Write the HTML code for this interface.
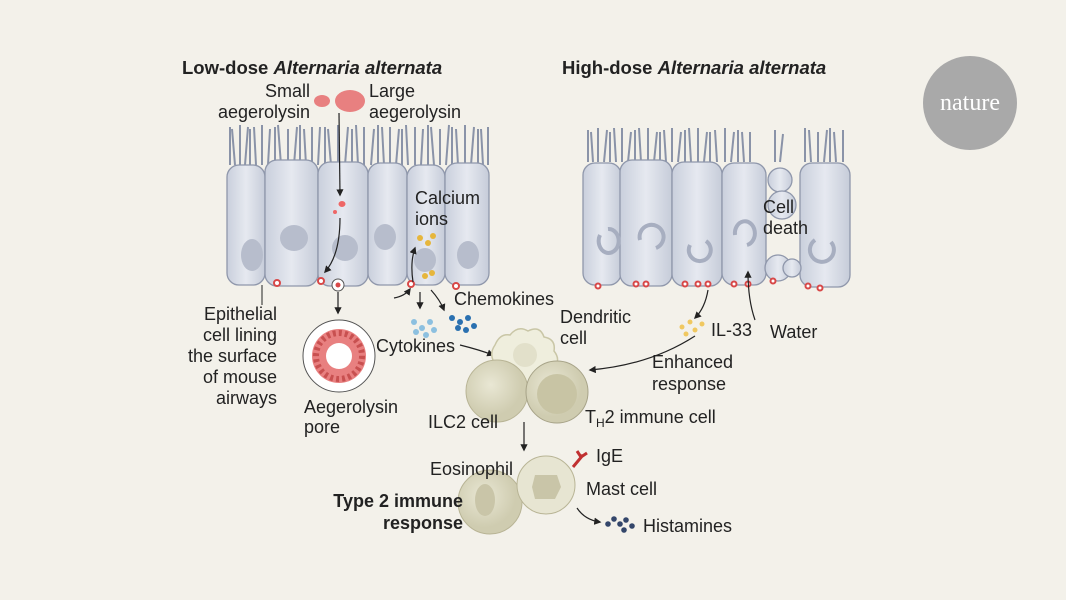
<!DOCTYPE html>
<html><head><meta charset="utf-8"><style>
body{margin:0;background:#f3f1ea;}
svg{display:block;font-family:"Liberation Sans",sans-serif;}
text{font-size:18px;fill:#222;}
</style></head><body>
<svg width="1066" height="600" viewBox="0 0 1066 600">
<defs>
<linearGradient id="cg" x1="0" x2="1"><stop offset="0" stop-color="#c9cfdc"/><stop offset="0.5" stop-color="#e6e9f0"/><stop offset="1" stop-color="#c6ccd9"/></linearGradient>
<radialGradient id="wc" cx="0.4" cy="0.4"><stop offset="0" stop-color="#e9e7d4"/><stop offset="1" stop-color="#cfccb0"/></radialGradient>
<marker id="ar" viewBox="0 0 10 10" refX="8" refY="5" markerWidth="6" markerHeight="6" orient="auto"><path d="M0,0L10,5L0,10z" fill="#222"/></marker>
</defs>
<rect width="1066" height="600" fill="#f3f1ea"/>
<circle cx="970" cy="103" r="47" fill="#a9a9a9"/>
<text x="970" y="110" text-anchor="middle" style="font-family:'Liberation Serif',serif;font-size:24px;fill:#fff">nature</text>
<text x="182" y="74" style="font-weight:bold;font-size:18.5px">Low-dose <tspan font-style="italic">Alternaria alternata</tspan></text>
<text x="562" y="74" style="font-weight:bold;font-size:18.5px">High-dose <tspan font-style="italic">Alternaria alternata</tspan></text>
<text x="310" y="97" text-anchor="end">Small</text><text x="310" y="118" text-anchor="end">aegerolysin</text>
<text x="369" y="97">Large</text><text x="369" y="118">aegerolysin</text>
<ellipse cx="322" cy="101" rx="8" ry="6" fill="#e88080"/>
<ellipse cx="350" cy="101" rx="15" ry="11" fill="#e88080"/>
<g stroke="#8a93a8" stroke-width="2">
<path d="M230,165 v-38 M235,165 l-3,-36 M240,165 v-40 M245,165 l3,-38 M250,165 v-36 M256,165 l-2,-38 M262,165 v-40 M268,165 l2,-36 M275,165 v-38 M281,165 l-3,-40 M288,165 v-36 M294,165 l3,-38 M300,165 v-40 M306,165 l-2,-36 M312,165 v-38 M318,165 l2,-38 M325,165 v-38 M331,165 l-3,-36 M338,165 v-40 M345,165 l3,-38 M352,165 v-36 M358,165 l-2,-40 M364,165 v-38 M371,165 l3,-36 M378,165 v-40 M384,165 l-2,-38 M390,165 v-38 M396,165 l3,-36 M402,165 v-36 M408,165 l-2,-40 M415,165 v-38 M421,165 l2,-36 M428,165 v-40 M434,165 l-3,-38 M440,165 v-36 M446,165 l3,-40 M452,165 v-38 M458,165 l-2,-36 M465,165 v-40 M471,165 l3,-38 M478,165 v-36 M483,165 l-2,-36 M488,165 v-38"/>
<path d="M588,162 v-32 M593,162 l-2,-30 M598,162 v-34 M604,162 l3,-32 M610,162 v-30 M616,162 l-2,-34 M622,162 v-34 M628,162 l3,-30 M635,162 v-32 M641,162 l-2,-34 M648,162 v-34 M654,162 l3,-30 M660,162 v-30 M666,162 l-2,-32 M672,162 v-34 M678,162 l3,-30 M685,162 v-32 M691,162 l-2,-34 M698,162 v-34 M704,162 l3,-30 M710,162 v-30 M717,162 l-2,-32 M725,162 v-34 M731,162 l3,-30 M738,162 v-32 M744,162 l-2,-30 M750,162 v-30 M775,162 v-32 M780,162 l3,-28 M805,162 v-34 M811,162 l-2,-32 M818,162 v-30 M824,162 l3,-32 M830,162 v-34 M836,162 l-2,-30 M843,162 v-32"/>
</g>
<g fill="url(#cg)" stroke="#8f97ab" stroke-width="1.3">
<rect x="227" y="165" width="38" height="120" rx="12"/>
<rect x="265" y="160" width="53" height="126" rx="12"/>
<rect x="318" y="162" width="50" height="124" rx="12"/>
<rect x="368" y="163" width="39" height="122" rx="12"/>
<rect x="407" y="165" width="38" height="120" rx="12"/>
<rect x="445" y="163" width="44" height="122" rx="12"/>
</g>
<g fill="#b7bdcc"><ellipse cx="252" cy="255" rx="11" ry="16"/><ellipse cx="294" cy="238" rx="14" ry="13"/><ellipse cx="345" cy="248" rx="13" ry="13"/><ellipse cx="385" cy="237" rx="11" ry="13"/><ellipse cx="425" cy="260" rx="11" ry="12"/><ellipse cx="468" cy="255" rx="11" ry="14"/></g>
<g fill="url(#cg)" stroke="#8f97ab" stroke-width="1.3">
<rect x="583" y="163" width="38" height="122" rx="12"/>
<rect x="620" y="160" width="52" height="126" rx="12"/>
<rect x="672" y="162" width="50" height="124" rx="12"/>
<rect x="722" y="163" width="44" height="122" rx="12"/>
<rect x="800" y="163" width="50" height="124" rx="12"/>
<circle cx="780" cy="180" r="12"/><circle cx="782" cy="205" r="14"/><circle cx="778" cy="268" r="13"/><circle cx="792" cy="268" r="9"/>
</g>
<g fill="none" stroke="#a7aec0" stroke-width="4"><path d="M600,235 a10,12 0 1,0 8,-6"/><path d="M640,240 a12,12 0 1,1 16,8"/><path d="M690,245 a11,11 0 1,0 16,-4"/><path d="M735,235 a10,12 0 1,1 12,10"/><path d="M815,240 a12,12 0 1,0 16,2"/></g>
<g fill="#fff" stroke="#d84848" stroke-width="2"><circle cx="277" cy="283" r="3"/><circle cx="321" cy="281" r="3"/><circle cx="411" cy="284" r="3"/><circle cx="456" cy="286" r="3"/><circle cx="598" cy="286" r="2.5"/><circle cx="636" cy="284" r="2.5"/><circle cx="646" cy="284" r="2.5"/><circle cx="685" cy="284" r="2.5"/><circle cx="698" cy="284" r="2.5"/><circle cx="708" cy="284" r="2.5"/><circle cx="734" cy="284" r="2.5"/><circle cx="748" cy="284" r="2.5"/><circle cx="773" cy="281" r="2.5"/><circle cx="808" cy="286" r="2.5"/><circle cx="820" cy="288" r="2.5"/></g>
<circle cx="338" cy="285" r="6" fill="#fff" stroke="#555"/><circle cx="338" cy="285" r="2.5" fill="#d84848"/>
<ellipse cx="342" cy="204" rx="3.5" ry="3" fill="#e66"/><circle cx="335" cy="212" r="2" fill="#e66"/>
<g fill="#e6b63c"><circle cx="420" cy="238" r="3"/><circle cx="428" cy="243" r="3"/><circle cx="433" cy="236" r="3"/><circle cx="425" cy="276" r="3"/><circle cx="432" cy="273" r="3"/></g>
<text x="415" y="204">Calcium</text><text x="415" y="225">ions</text>
<text x="763" y="213">Cell</text><text x="763" y="234">death</text>
<g fill="none" stroke="#222" stroke-width="1.2" marker-end="url(#ar)">
<path d="M339,113 L340,195"/>
<path d="M340,218 Q340,255 325,272"/>
<path d="M338,292 L338,313"/>
<path d="M394,298 Q405,296 410,289"/>
<path d="M413,282 Q410,262 415,248"/>
<path d="M420,292 L420,308"/>
<path d="M431,290 Q440,300 444,310"/>
<path d="M460,345 Q480,350 493,355"/>
<path d="M708,290 Q705,308 695,318"/>
<path d="M755,320 Q748,300 748,272"/>
<path d="M695,336 Q650,365 590,370"/>
<path d="M524,422 L524,450"/>
<path d="M577,508 Q585,520 600,522"/>
</g>
<path d="M262,285 V305 M338,298 V313" stroke="#222" stroke-width="1"/>
<circle cx="339" cy="356" r="36" fill="#fff" stroke="#555"/>
<circle cx="339" cy="356" r="27" fill="#e88080"/>
<circle cx="339" cy="356" r="23" fill="none" stroke="#c85050" stroke-width="6" stroke-dasharray="3 3"/>
<circle cx="339" cy="356" r="13" fill="#fff"/>
<g text-anchor="end"><text x="277" y="320">Epithelial</text><text x="277" y="341">cell lining</text><text x="277" y="362">the surface</text><text x="277" y="383">of mouse</text><text x="277" y="404">airways</text></g>
<text x="304" y="413">Aegerolysin</text><text x="304" y="433">pore</text>
<g fill="#8cc0e0"><circle cx="414" cy="322" r="3"/><circle cx="422" cy="328" r="3"/><circle cx="430" cy="322" r="3"/><circle cx="426" cy="335" r="3"/><circle cx="434" cy="330" r="3"/><circle cx="416" cy="332" r="3"/></g>
<g fill="#2a70b0"><circle cx="452" cy="318" r="3"/><circle cx="460" cy="322" r="3"/><circle cx="468" cy="318" r="3"/><circle cx="458" cy="328" r="3"/><circle cx="466" cy="330" r="3"/><circle cx="474" cy="326" r="3"/></g>
<text x="454" y="305">Chemokines</text>
<text x="376" y="352">Cytokines</text>
<text x="560" y="323">Dendritic</text><text x="560" y="344">cell</text>
<g fill="#f0c860"><circle cx="682" cy="327" r="2.5"/><circle cx="690" cy="322" r="2.5"/><circle cx="695" cy="330" r="2.5"/><circle cx="702" cy="324" r="2.5"/><circle cx="686" cy="334" r="2.5"/></g>
<text x="711" y="336">IL-33</text><text x="770" y="338">Water</text>
<text x="652" y="368">Enhanced</text><text x="652" y="390">response</text>
<path d="M495,345 q5,-12 15,-10 q8,-10 18,-4 q12,-6 16,6 q12,2 10,14 q8,10 -2,18 q2,12 -12,12 q-6,10 -18,4 q-12,6 -16,-6 q-12,-2 -10,-14 q-8,-10 -1,-20z" fill="#efeedd" stroke="#c9c6a6" stroke-width="1.5"/>
<circle cx="525" cy="355" r="12" fill="#e2e0ca"/>
<circle cx="497" cy="391" r="31" fill="url(#wc)" stroke="#b8b495"/>
<circle cx="557" cy="392" r="31" fill="url(#wc)" stroke="#a7a388"/>
<circle cx="557" cy="394" r="20" fill="#c8c4a4"/>
<text x="428" y="428">ILC2 cell</text>
<text x="585" y="423">T<tspan font-size="12" dy="4">H</tspan><tspan dy="-4">2 immune cell</tspan></text>
<circle cx="490" cy="502" r="32" fill="url(#wc)" stroke="#b8b495"/>
<ellipse cx="485" cy="500" rx="10" ry="16" fill="#c9c5a8"/>
<circle cx="546" cy="485" r="29" fill="#e7e5d2" stroke="#b8b495"/>
<path d="M535,475 h22 l4,12 l-6,12 h-20 l-3,-12z" fill="#c9c5a8"/>
<path d="M573,467 l10,-12 m-2,2 l-4,-6 m4,6 l6,-4" stroke="#c03030" stroke-width="3" fill="none"/>
<text x="596" y="462">IgE</text>
<text x="430" y="475">Eosinophil</text>
<text x="586" y="495">Mast cell</text>
<text x="463" y="507" text-anchor="end" style="font-weight:bold">Type 2 immune</text>
<text x="463" y="529" text-anchor="end" style="font-weight:bold">response</text>
<g fill="#33466a"><circle cx="608" cy="524" r="2.8"/><circle cx="614" cy="519" r="2.8"/><circle cx="620" cy="524" r="2.8"/><circle cx="626" cy="520" r="2.8"/><circle cx="632" cy="526" r="2.8"/><circle cx="624" cy="530" r="2.8"/></g>
<text x="643" y="532">Histamines</text>
</svg>
</body></html>
